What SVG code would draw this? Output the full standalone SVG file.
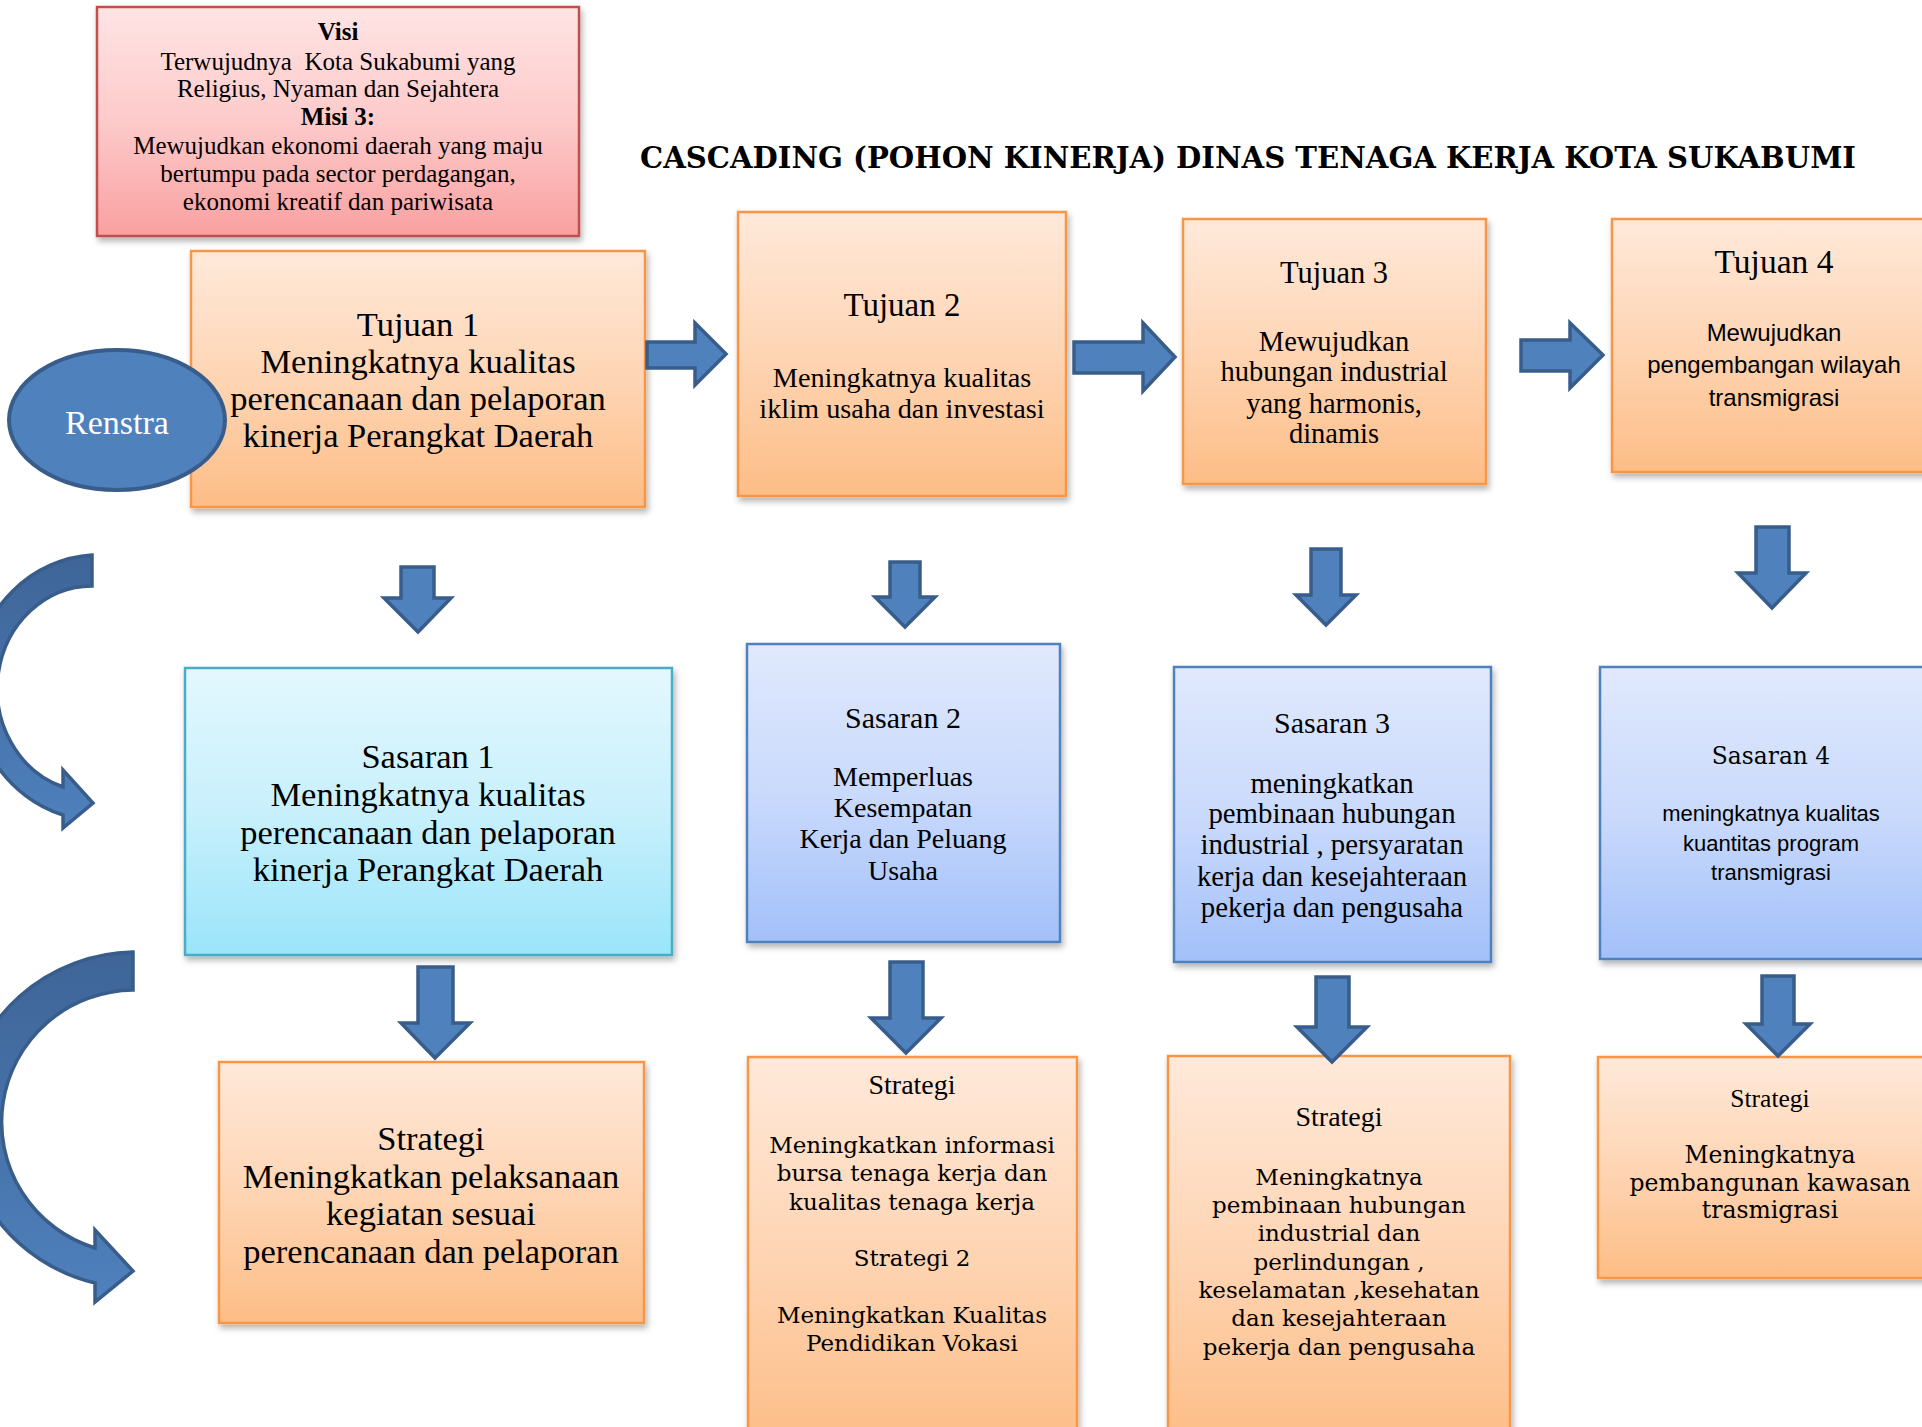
<svg xmlns="http://www.w3.org/2000/svg" width="1922" height="1427" viewBox="0 0 1922 1427">
<defs>
<linearGradient id="gO" x1="0" y1="0" x2="0" y2="1"><stop offset="0" stop-color="#FFE9DA"/><stop offset="0.5" stop-color="#FED5B4"/><stop offset="1" stop-color="#FDBD86"/></linearGradient>
<linearGradient id="gB" x1="0" y1="0" x2="0" y2="1"><stop offset="0" stop-color="#E0E9FD"/><stop offset="0.5" stop-color="#CADAFC"/><stop offset="1" stop-color="#A2C0F9"/></linearGradient>
<linearGradient id="gC" x1="0" y1="0" x2="0" y2="1"><stop offset="0" stop-color="#E3F8FE"/><stop offset="0.5" stop-color="#C8F0FC"/><stop offset="1" stop-color="#9AE5FA"/></linearGradient>
<linearGradient id="gP" x1="0" y1="0" x2="0" y2="1"><stop offset="0" stop-color="#FFE4E4"/><stop offset="0.5" stop-color="#FDCACA"/><stop offset="1" stop-color="#F9A0A0"/></linearGradient>
<linearGradient id="gA" x1="0" y1="0" x2="0" y2="1"><stop offset="0" stop-color="#3F6598"/><stop offset="0.55" stop-color="#4773AB"/><stop offset="1" stop-color="#4F81BD"/></linearGradient>
<filter id="sh" x="-5%" y="-5%" width="112%" height="115%"><feDropShadow dx="2" dy="4" stdDeviation="3" flood-color="#000" flood-opacity="0.3"/></filter>
</defs>
<style>
.cam{font-family:"Liberation Serif","Times New Roman",serif;fill:#000;text-anchor:middle}
.bk{font-family:"DejaVu Serif",serif;fill:#000;text-anchor:middle}
.sn{font-family:"Liberation Sans",Arial,sans-serif;fill:#000;text-anchor:middle}
.b{font-weight:bold}
.bo{fill:url(#gO);stroke:#F79646;stroke-width:2.5;filter:url(#sh)}
.bb{fill:url(#gB);stroke:#4F81BD;stroke-width:2.5;filter:url(#sh)}
.bc{fill:url(#gC);stroke:#4BACC6;stroke-width:2.5;filter:url(#sh)}
.bp{fill:url(#gP);stroke:#C0504D;stroke-width:2.5;filter:url(#sh)}
.arr{fill:#4F81BD;stroke:#385D8A;stroke-width:3.5;stroke-linejoin:miter}
.carr{fill:url(#gA);stroke:#385D8A;stroke-width:3.5;stroke-linejoin:miter}
</style>
<rect width="1922" height="1427" fill="#fff"/>

<text id="title" class="bk b" x="1248" y="168" font-size="30" textLength="1216" lengthAdjust="spacingAndGlyphs">CASCADING (POHON KINERJA) DINAS TENAGA KERJA KOTA SUKABUMI</text>

<g id="visi">
<rect class="bp" x="97" y="7" width="482" height="229"/>
<text class="cam" font-size="25"><tspan class="b" x="338" y="40">Visi</tspan><tspan x="338" y="70" style="white-space:pre">Terwujudnya  Kota Sukabumi yang</tspan><tspan x="338" y="97">Religius, Nyaman dan Sejahtera</tspan><tspan class="b" x="338" y="125">Misi 3:</tspan><tspan x="338" y="154">Mewujudkan ekonomi daerah yang maju</tspan><tspan x="338" y="182">bertumpu pada sector perdagangan,</tspan><tspan x="338" y="210">ekonomi kreatif dan pariwisata</tspan></text>
</g>

<g id="tujuan1">
<rect class="bo" x="191" y="251" width="454" height="256"/>
<text class="cam" font-size="34.5"><tspan x="418" y="336">Tujuan 1</tspan><tspan x="418" y="373">Meningkatnya kualitas</tspan><tspan x="418" y="410">perencanaan dan pelaporan</tspan><tspan x="418" y="447">kinerja Perangkat Daerah</tspan></text>
</g>

<g id="renstra">
<ellipse cx="117" cy="420" rx="108" ry="70" fill="#4F81BD" stroke="#385D8A" stroke-width="4"/>
<text class="cam" x="117" y="434" font-size="34" style="fill:#fff">Renstra</text>
</g>

<g id="tujuan2">
<rect class="bo" x="738" y="212" width="328" height="284"/>
<text class="cam"><tspan x="902" y="316" font-size="33">Tujuan 2</tspan><tspan x="902" y="386.5" font-size="28.3">Meningkatnya kualitas</tspan><tspan x="902" y="417.5" font-size="28.3">iklim usaha dan investasi</tspan></text>
</g>

<g id="tujuan3">
<rect class="bo" x="1183" y="219" width="303" height="265"/>
<text class="cam"><tspan x="1334" y="283" font-size="30.5">Tujuan 3</tspan><tspan x="1334" y="350.5" font-size="28.5">Mewujudkan</tspan><tspan x="1334" y="380.5" font-size="28.5">hubungan industrial</tspan><tspan x="1334" y="412.5" font-size="28.5">yang harmonis,</tspan><tspan x="1334" y="442.5" font-size="28.5">dinamis</tspan></text>
</g>

<g id="tujuan4">
<rect class="bo" x="1612" y="219" width="330" height="253"/>
<text class="cam" x="1774" y="273" font-size="33.5">Tujuan 4</text>
<text class="sn" font-size="24"><tspan x="1774" y="341">Mewujudkan</tspan><tspan x="1774" y="373">pengembangan wilayah</tspan><tspan x="1774" y="406">transmigrasi</tspan></text>
</g>

<g id="sasaran1">
<rect class="bc" x="185" y="668" width="487" height="287"/>
<text class="cam" font-size="34.5"><tspan x="428" y="768">Sasaran 1</tspan><tspan x="428" y="806">Meningkatnya kualitas</tspan><tspan x="428" y="844">perencanaan dan pelaporan</tspan><tspan x="428" y="881">kinerja Perangkat Daerah</tspan></text>
</g>

<g id="sasaran2">
<rect class="bb" x="747" y="644" width="313" height="298"/>
<text class="cam" font-size="28"><tspan x="903" y="727.5" font-size="30">Sasaran 2</tspan><tspan x="903" y="785.5">Memperluas</tspan><tspan x="903" y="816.5">Kesempatan</tspan><tspan x="903" y="847.5">Kerja dan Peluang</tspan><tspan x="903" y="879.5">Usaha</tspan></text>
</g>

<g id="sasaran3">
<rect class="bb" x="1174" y="667" width="317" height="295"/>
<text class="cam" font-size="28.8"><tspan x="1332" y="733" font-size="30">Sasaran 3</tspan><tspan x="1332" y="793">meningkatkan</tspan><tspan x="1332" y="823">pembinaan hubungan</tspan><tspan x="1332" y="854">industrial , persyaratan</tspan><tspan x="1332" y="886">kerja dan kesejahteraan</tspan><tspan x="1332" y="917">pekerja dan pengusaha</tspan></text>
</g>

<g id="sasaran4">
<rect class="bb" x="1600" y="667" width="342" height="292"/>
<text class="bk" x="1771" y="764" font-size="23.4">Sasaran 4</text>
<text class="sn" font-size="22"><tspan x="1771" y="820.5">meningkatnya kualitas</tspan><tspan x="1771" y="850.5">kuantitas program</tspan><tspan x="1771" y="879.5">transmigrasi</tspan></text>
</g>

<g id="strategi1">
<rect class="bo" x="219" y="1062" width="425" height="261"/>
<text class="cam" font-size="34.5"><tspan x="431" y="1150">Strategi</tspan><tspan x="431" y="1188">Meningkatkan pelaksanaan</tspan><tspan x="431" y="1225">kegiatan sesuai</tspan><tspan x="431" y="1263">perencanaan dan pelaporan</tspan></text>
</g>

<g id="strategi2">
<rect class="bo" x="748" y="1057" width="329" height="390"/>
<text class="cam" x="912" y="1094" font-size="28">Strategi</text>
<text class="bk" font-size="23"><tspan x="912" y="1153">Meningkatkan informasi</tspan><tspan x="912" y="1181">bursa tenaga kerja dan</tspan><tspan x="912" y="1210">kualitas tenaga kerja</tspan><tspan x="912" y="1266">Strategi 2</tspan><tspan x="912" y="1323">Meningkatkan Kualitas</tspan><tspan x="912" y="1351">Pendidikan Vokasi</tspan></text>
</g>

<g id="strategi3">
<rect class="bo" x="1168" y="1056" width="342" height="391"/>
<text class="cam" x="1339" y="1126" font-size="28">Strategi</text>
<text class="bk" font-size="23"><tspan x="1339" y="1185">Meningkatnya</tspan><tspan x="1339" y="1213">pembinaan hubungan</tspan><tspan x="1339" y="1241">industrial dan</tspan><tspan x="1339" y="1270">perlindungan ,</tspan><tspan x="1339" y="1298">keselamatan ,kesehatan</tspan><tspan x="1339" y="1326">dan kesejahteraan</tspan><tspan x="1339" y="1355">pekerja dan pengusaha</tspan></text>
</g>

<g id="strategi4">
<rect class="bo" x="1598" y="1057" width="344" height="221"/>
<text class="cam" x="1770" y="1106.5" font-size="25.5">Strategi</text>
<text class="bk" font-size="23.5"><tspan x="1770" y="1163">Meningkatnya</tspan><tspan x="1770" y="1191">pembangunan kawasan</tspan><tspan x="1770" y="1218">trasmigrasi</tspan></text>
</g>

<g id="connectors">
<polygon class="arr" points="647,342 695,342 695,323 726,354 695,385 695,368 647,368"/>
<polygon class="arr" points="1074,342 1143,342 1143,323 1175,357 1143,391 1143,373 1074,373"/>
<polygon class="arr" points="1521,340 1570,340 1570,323 1603,355 1570,388 1570,371 1521,371"/>

<polygon class="arr" points="401,567 434,567 434,598 451,598 418,632 384,598 401,598"/>
<polygon class="arr" points="890,562 920,562 920,597 935,597 905,627 875,597 890,597"/>
<polygon class="arr" points="1311,549 1341,549 1341,595 1356,595 1326,625 1296,595 1311,595"/>
<polygon class="arr" points="1756,527 1789,527 1789,573 1806,573 1772,608 1738,573 1756,573"/>

<polygon class="arr" points="418,967 453,967 453,1023 470,1023 435,1058 401,1023 418,1023"/>
<polygon class="arr" points="890,962 923,962 923,1018 941,1018 906,1053 871,1018 890,1018"/>
<polygon class="arr" points="1316,977 1349,977 1349,1027 1367,1027 1332,1062 1297,1027 1316,1027"/>
<polygon class="arr" points="1762,976 1794,976 1794,1024 1810,1024 1778,1056 1746,1024 1762,1024"/>

<path class="carr" d="M92,555 L92,586 A95,103 0 0 0 63,787 L63,770 L93,803 L63,828 L63,815 A127,133 0 0 1 92,555 Z"/>
<path class="carr" d="M133,952 L133,990 A133,132 0 0 0 95,1248 L95,1230 L133,1271 L95,1302 L95,1283 A173,168 0 0 1 133,952 Z"/>
</g>
</svg>
